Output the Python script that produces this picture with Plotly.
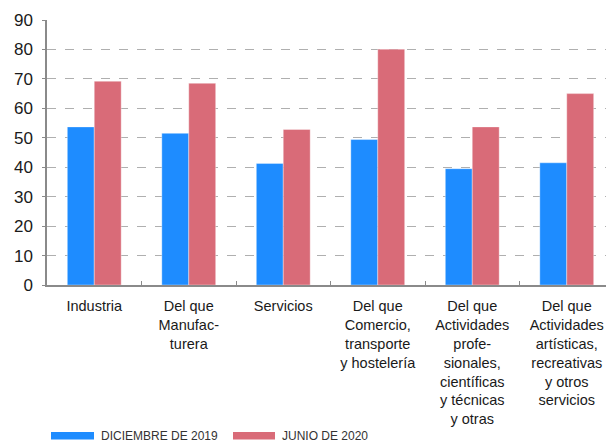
import plotly.graph_objects as go

categories = [
    "Industria",
    "Del que<br>Manufac-<br>turera",
    "Servicios",
    "Del que<br>Comercio,<br>transporte<br>y hostelería",
    "Del que<br>Actividades<br>profe-<br>sionales,<br>científicas<br>y técnicas<br>y otras",
    "Del que<br>Actividades<br>artísticas,<br>recreativas<br>y otros<br>servicios",
]
series_names = ["DICIEMBRE DE 2019", "JUNIO DE 2020"]
dic_2019 = [53.7, 51.5, 41.3, 49.4, 39.5, 41.5]
jun_2020 = [69.2, 68.5, 52.8, 80.1, 53.7, 65.0]
y_ticks = [0, 10, 20, 30, 40, 50, 60, 70, 80, 90]

BLUE = "#1E8CFF"
RED = "#D96B78"

# the page body adds an 8px offset; compensate so the plot lands where the reference has it
OFF = 8
W, H = 614 - OFF, 443 - OFF
L, T = 47 - OFF, 20 - OFF
PW, PH = 567, 265
B = H - T - PH


def px_x(x):
    return (x - OFF - L) / PW


def px_y(y):
    return (T + PH - (y - OFF)) / PH


fig = go.Figure()
fig.add_trace(go.Bar(x=categories, y=dic_2019, name=series_names[0],
                     marker=dict(color=BLUE, line=dict(color="rgba(255,255,255,0.6)", width=0.6))))
fig.add_trace(go.Bar(x=categories, y=jun_2020, name=series_names[1],
                     marker=dict(color=RED, line=dict(color="rgba(255,255,255,0.6)", width=0.6))))

fig.update_layout(
    width=W, height=H,
    margin=dict(l=L, r=0, t=T, b=B, autoexpand=False),
    plot_bgcolor="white", paper_bgcolor="white",
    barmode="group", bargap=0.43, bargroupgap=0,
    showlegend=False,
    font=dict(family="Liberation Sans, Arial, sans-serif", color="#1a1a1a"),
)
fig.update_yaxes(
    range=[0, 90], tickvals=y_ticks, showgrid=True, automargin=False,
    gridcolor="#AFAFAF", griddash="dash", gridwidth=1,
    showline=True, linecolor="#8a8a8a", linewidth=1.5,
    ticks="outside", ticklen=3, tickcolor="#8a8a8a",
    ticklabelstandoff=6,
    tickfont=dict(size=17, color="#1a1a1a"), zeroline=False,
)
fig.update_xaxes(
    showline=True, linecolor="#8a8a8a", linewidth=1.5, automargin=False,
    ticks="inside", tickson="boundaries", ticklen=4, tickcolor="#8a8a8a",
    ticklabelstandoff=7,
    tickfont=dict(size=14.5, color="#1a1a1a"), tickangle=0,
)

# custom legend
legend_items = [(BLUE, series_names[0], 51, 94, 99), (RED, series_names[1], 233, 275, 280)]
for color, name, x0, x1, xt in legend_items:
    fig.add_shape(type="rect", xref="paper", yref="paper",
                  x0=px_x(x0), x1=px_x(x1), y0=px_y(439.5), y1=px_y(432),
                  fillcolor=color, line=dict(width=0))
    fig.add_annotation(xref="paper", yref="paper", x=px_x(xt), y=px_y(436),
                       text=name, showarrow=False, xanchor="left", yanchor="middle",
                       font=dict(family="Liberation Sans, Arial, sans-serif", size=12, color="#333333"))

fig.write_html("out.html")
